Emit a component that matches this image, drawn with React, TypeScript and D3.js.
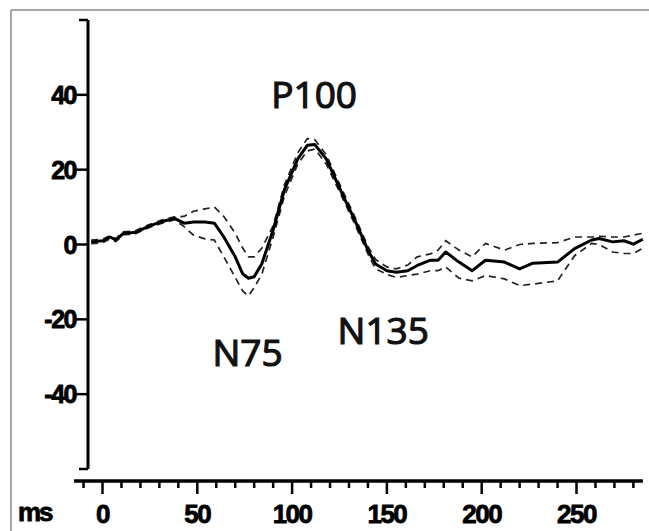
import React from "react";
import * as d3 from "d3";

const timesMs = [-6, 0, 4, 7, 11, 17, 24, 31, 38, 43, 48, 54, 59, 64, 70, 74, 77, 80, 84, 90, 96, 103, 108, 112, 118, 127, 133, 140, 144, 150, 155, 161, 166, 173, 177, 181, 188, 195, 202, 212, 220, 227, 240, 249, 258, 262, 269, 275, 280, 285];
const meanUv = [0.7, 1, 2, 1.2, 3, 3.2, 4.8, 6.1, 7, 5.7, 6, 6, 5.7, 2, -3.3, -7.9, -9, -8.6, -5.2, 3.9, 14.7, 22.9, 26.5, 26.7, 22.9, 12.9, 6.6, -1.5, -5.2, -7, -7.4, -7, -5.6, -4.2, -4.2, -2, -4.7, -7, -4.2, -4.7, -6.5, -5, -4.7, -1.1, 1.2, 1.6, 0.7, 1, 0.1, 1.4];
const upperUv = [1.2, 1.4, 2.4, 1.6, 3.4, 3.6, 5.2, 6.5, 7.4, 7.5, 8.9, 9.5, 10, 7.5, 3, -1, -3.3, -3.3, -1, 5, 16, 24.5, 28.3, 28, 24, 14, 7.5, -0.5, -4, -6, -6.5, -5.5, -3.3, -2.5, -1.5, 1, -1.5, -3.3, 0.3, -1.5, 0, 0.3, 0.5, 2, 2, 2.2, 2, 2, 2.5, 3];
const lowerUv = [0.2, 0.5, 1.5, 0.8, 2.6, 2.8, 4.4, 5.6, 6.6, 4.8, 2.5, 1.5, 1.2, -3.3, -8.8, -12.5, -13.7, -11.5, -8, 2, 13, 21.5, 25, 25.5, 21.5, 12, 5.5, -2.5, -6.5, -8, -8.8, -8.3, -7.9, -7, -7, -6, -9, -9.7, -8.3, -9.2, -11, -10.6, -9.7, -3, 0.3, 0, -2, -2.4, -2.4, -1];

const yTickValues = [-60, -40, -20, 0, 20, 40, 60];
const yTickLabels = ["", "-40", "-20", "0", "20", "40", ""];
const xMajorTicks = [0, 50, 100, 150, 200, 250];
const xMinorTicks = d3.range(-10, 290, 10).filter((t) => t % 50 !== 0);

const peakLabels = [
  { text: "P100", t: 89, v: 36.5 },
  { text: "N75", t: 58, v: -32.5 },
  { text: "N135", t: 124, v: -26.5 },
];

export default function App() {
  const W = 649;
  const H = 531;
  const x = d3.scaleLinear().domain([0, 250]).range([102.5, 576.5]);
  const y = d3.scaleLinear().domain([-60, 60]).range([469, 20]);
  const yAxisX = 88;
  const xAxisY = 481;

  const mk = (vals: number[]) =>
    d3
      .line<number>()
      .x((_, i) => x(timesMs[i]))
      .y((d) => y(d))
      .curve(d3.curveLinear)(vals) as string;

  const tickFont = "'Liberation Sans', Arial, sans-serif";
  const annFont = "'Open Sans', 'Noto Sans', sans-serif";

  return (
    <svg
      width={W}
      height={H}
      style={{ position: "absolute", left: 0, top: 0, background: "#fff" }}
    >
      <rect x={0} y={0} width={W} height={H} fill="#fff" />
      {/* frame */}
      <line x1={11} y1={10} x2={W} y2={10} stroke="#888" strokeWidth={1.5} />
      <line x1={11} y1={10} x2={11} y2={H} stroke="#888" strokeWidth={1.5} />

      {/* y axis */}
      <line x1={yAxisX} y1={y(60)} x2={yAxisX} y2={y(-60)} stroke="#000" strokeWidth={3} />
      {yTickValues.map((v, i) => (
        <g key={v}>
          <line
            x1={yAxisX - (yTickLabels[i] === "" ? 9 : 12)}
            x2={yAxisX}
            y1={y(v)}
            y2={y(v)}
            stroke="#000"
            strokeWidth={2.5}
          />
          {yTickLabels[i] !== "" && (
            <text
              x={yAxisX - 12}
              y={y(v)}
              dy="0.36em"
              textAnchor="end"
              fontFamily={tickFont}
              fontWeight="bold"
              fontSize={25}
              letterSpacing={-1.5}
              fill="#000"
              stroke="#000"
              strokeWidth={0.8}
            >
              {yTickLabels[i]}
            </text>
          )}
        </g>
      ))}

      {/* x axis */}
      <line x1={x(-15)} x2={x(285)} y1={xAxisY} y2={xAxisY} stroke="#000" strokeWidth={3.5} />
      {xMinorTicks.map((t) => (
        <line key={"m" + t} x1={x(t)} x2={x(t)} y1={xAxisY} y2={xAxisY + 7} stroke="#000" strokeWidth={2.5} />
      ))}
      {xMajorTicks.map((t) => (
        <g key={"M" + t}>
          <line x1={x(t)} x2={x(t)} y1={xAxisY} y2={xAxisY + 13} stroke="#000" strokeWidth={2.5} />
          <text
            x={x(t)}
            y={523}
            textAnchor="middle"
            fontFamily={tickFont}
            fontWeight="bold"
            fontSize={26}
            letterSpacing={-1.5}
            fill="#000"
            stroke="#000"
            strokeWidth={0.8}
          >
            {t}
          </text>
        </g>
      ))}
      <text
        x={18}
        y={521}
        fontFamily={tickFont}
        fontWeight="bold"
        fontSize={26}
        letterSpacing={-2}
        fill="#000"
        stroke="#000"
        strokeWidth={0.8}
      >
        ms
      </text>

      {/* traces */}
      <path d={mk(upperUv)} fill="none" stroke="#222" strokeWidth={1.7} strokeDasharray="7 5" />
      <path d={mk(lowerUv)} fill="none" stroke="#222" strokeWidth={1.7} strokeDasharray="7 5" />
      <path d={mk(meanUv)} fill="none" stroke="#000" strokeWidth={3} strokeLinejoin="round" />

      {/* peak labels */}
      {peakLabels.map((p) => (
        <text
          key={p.text}
          x={x(p.t)}
          y={y(p.v)}
          fontFamily={annFont}
          fontWeight={400}
          fontSize={37}
          fill="#111"
          stroke="#111"
          strokeWidth={1.2}
        >
          {p.text}
        </text>
      ))}
    </svg>
  );
}
